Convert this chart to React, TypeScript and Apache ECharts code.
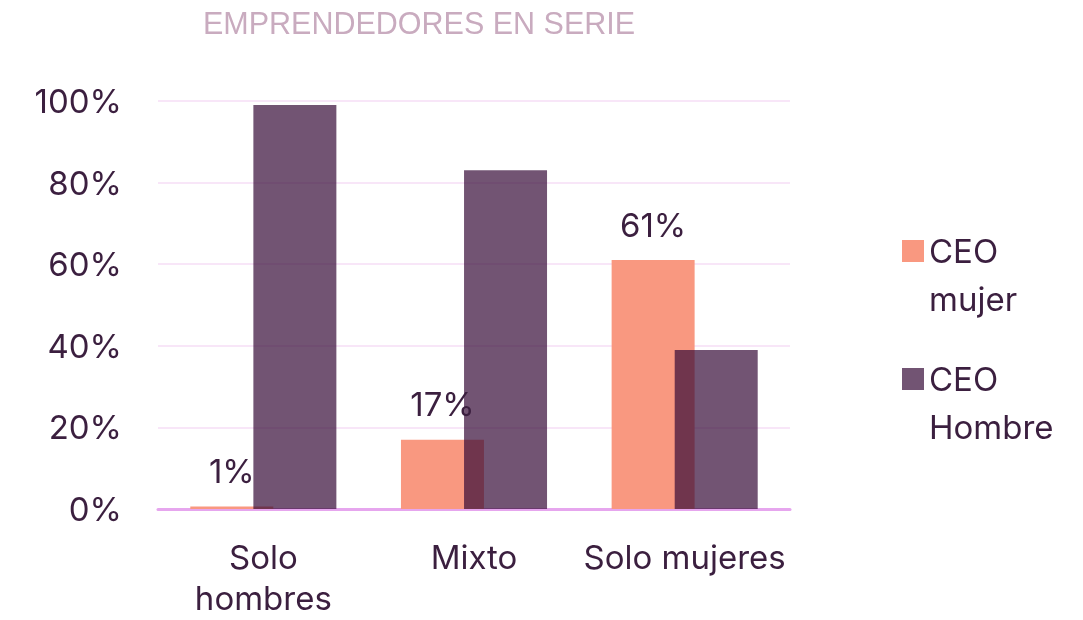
import React, { useEffect, useRef } from "react";
import * as echarts from "echarts";

const categories = ["Solo\nhombres", "Mixto", "Solo mujeres"];
const ceoMujer = [0.6, 17, 61];
const ceoHombre = [99, 83, 39];
const yTicks = [0, 20, 40, 60, 80, 100];

const TEXT = "#3b1f3f";
const FONT = "Inter";

export default function App() {
  const ref = useRef<HTMLDivElement>(null);
  useEffect(() => {
    const chart = echarts.init(ref.current!, null, { renderer: "svg" });
    const legendText = {
      color: TEXT,
      fontSize: 33,
      fontFamily: FONT,
      lineHeight: 48,
    };
    const catText = { color: TEXT, fontSize: 33, fontFamily: FONT };
    chart.setOption({
      animation: false,
      title: {
        text: "EMPRENDEDORES EN SERIE",
        left: 414,
        textAlign: "center",
        top: 2,
        textStyle: { color: "#c9abbf", fontSize: 30.5, fontWeight: "normal", fontFamily: "Liberation Sans" },
      },
      grid: { left: 158, right: 293, top: 101, bottom: 111, containLabel: false, outerBoundsMode: "none" },
      legend: [
        {
          data: ["CEO mujer"],
          left: 897,
          top: 174,
          orient: "vertical",
          icon: "rect",
          itemWidth: 22,
          itemHeight: 22,
          formatter: (n: string) => "\n" + n.replace(" ", "\n"),
          textStyle: legendText,
        },
        {
          data: ["CEO Hombre"],
          left: 897,
          top: 302,
          orient: "vertical",
          icon: "rect",
          itemWidth: 22,
          itemHeight: 22,
          formatter: (n: string) => "\n" + n.replace(" ", "\n"),
          textStyle: legendText,
        },
      ],
      xAxis: {
        type: "category",
        data: categories,
        axisLine: { lineStyle: { color: "#e6a6ee", width: 3 } },
        axisTick: { show: false },
        axisLabel: {
          interval: 0,
          margin: 26,
          ...catText,
          formatter: (v: string) =>
            v
              .split("\n")
              .map((s, i) => (i === 0 ? `{a|${s}}` : `{b|${s}}`))
              .join("\n"),
          rich: {
            a: { ...catText, lineHeight: 44 },
            b: { ...catText, lineHeight: 37 },
          },
        },
      },
      yAxis: {
        type: "value",
        min: yTicks[0],
        max: yTicks[yTicks.length - 1],
        interval: 20,
        axisLabel: { formatter: "{value}%", color: TEXT, fontSize: 33, fontFamily: FONT, margin: 36 },
        splitLine: { lineStyle: { color: "#f8e6f8", width: 2 } },
        axisLine: { show: false },
        axisTick: { show: false },
      },
      series: [
        {
          name: "CEO mujer",
          type: "bar",
          data: ceoMujer,
          barWidth: 83,
          barGap: "-24%",
          itemStyle: { color: "#f99880" },
          label: {
            show: true,
            position: "top",
            distance: 19,
            formatter: (p: any) => Math.round(p.value) + "%",
            color: TEXT,
            fontSize: 33,
            fontFamily: FONT,
          },
        },
        {
          name: "CEO Hombre",
          type: "bar",
          data: ceoHombre,
          barWidth: 83,
          itemStyle: { color: "rgba(54,12,56,0.7)" },
        },
      ],
    });
    return () => chart.dispose();
  }, []);
  return (
    <div
      ref={ref}
      style={{ position: "fixed", left: 0, top: 0, width: 1083, height: 620 }}
    />
  );
}
